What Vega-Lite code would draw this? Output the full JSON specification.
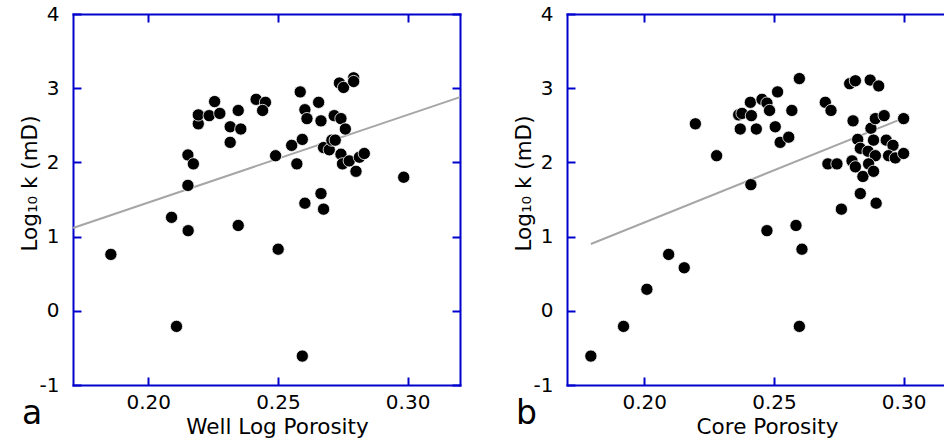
{
  "$schema": "https://vega.github.io/schema/vega-lite/v6.json",
  "padding": {"left": 19, "top": 4, "right": 0, "bottom": 0},
  "background": "white",
  "spacing": 49,
  "config": {
    "font": "DejaVu Sans",
    "view": {"stroke": null},
    "axis": {
      "grid": false,
      "domainColor": "#0000cc",
      "domainWidth": 2,
      "domainCap": "square",
      "tickColor": "#0000cc",
      "tickWidth": 2,
      "tickSize": -8,
      "labelFont": "DejaVu Sans",
      "labelFontSize": 20,
      "labelColor": "#000000",
      "titleFont": "DejaVu Sans",
      "titleFontSize": 21.5,
      "titleFontWeight": "normal",
      "titleColor": "#000000"
    },
    "title": {"font": "DejaVu Sans", "fontWeight": "normal", "color": "#000000"}
  },
  "datasets": {
    "wellLog": [
      {"porosity": 0.1856, "logk": 0.76}, {"porosity": 0.2109, "logk": -0.21}, {"porosity": 0.2090, "logk": 1.26},
      {"porosity": 0.2154, "logk": 1.08}, {"porosity": 0.2153, "logk": 1.69}, {"porosity": 0.2153, "logk": 2.10},
      {"porosity": 0.2174, "logk": 1.98}, {"porosity": 0.2193, "logk": 2.52}, {"porosity": 0.2193, "logk": 2.64},
      {"porosity": 0.2235, "logk": 2.63}, {"porosity": 0.2256, "logk": 2.82}, {"porosity": 0.2276, "logk": 2.66},
      {"porosity": 0.2316, "logk": 2.48}, {"porosity": 0.2316, "logk": 2.27}, {"porosity": 0.2347, "logk": 2.70},
      {"porosity": 0.2357, "logk": 2.45}, {"porosity": 0.2347, "logk": 1.15}, {"porosity": 0.2416, "logk": 2.85},
      {"porosity": 0.2452, "logk": 2.81}, {"porosity": 0.2441, "logk": 2.70}, {"porosity": 0.2491, "logk": 2.09},
      {"porosity": 0.2501, "logk": 0.83}, {"porosity": 0.2553, "logk": 2.23}, {"porosity": 0.2573, "logk": 1.98},
      {"porosity": 0.2586, "logk": 2.95}, {"porosity": 0.2594, "logk": 2.31}, {"porosity": 0.2604, "logk": 2.71},
      {"porosity": 0.2612, "logk": 2.59}, {"porosity": 0.2604, "logk": 1.45}, {"porosity": 0.2594, "logk": -0.61},
      {"porosity": 0.2657, "logk": 2.81}, {"porosity": 0.2666, "logk": 2.56}, {"porosity": 0.2666, "logk": 1.58},
      {"porosity": 0.2676, "logk": 1.37}, {"porosity": 0.2676, "logk": 2.20}, {"porosity": 0.2698, "logk": 2.17},
      {"porosity": 0.2708, "logk": 2.30}, {"porosity": 0.2721, "logk": 2.30}, {"porosity": 0.2717, "logk": 2.63},
      {"porosity": 0.2743, "logk": 2.59}, {"porosity": 0.2760, "logk": 2.45}, {"porosity": 0.2737, "logk": 3.07},
      {"porosity": 0.2753, "logk": 3.01}, {"porosity": 0.2792, "logk": 3.14}, {"porosity": 0.2792, "logk": 3.09},
      {"porosity": 0.2743, "logk": 2.11}, {"porosity": 0.2749, "logk": 1.98}, {"porosity": 0.2775, "logk": 2.02},
      {"porosity": 0.2801, "logk": 1.88}, {"porosity": 0.2814, "logk": 2.07}, {"porosity": 0.2833, "logk": 2.12},
      {"porosity": 0.2985, "logk": 1.80}
    ],
    "wellFit": [{"porosity": 0.171, "logk": 1.115}, {"porosity": 0.3202, "logk": 2.88}],
    "core": [
      {"porosity": 0.1794, "logk": -0.61}, {"porosity": 0.1920, "logk": -0.21}, {"porosity": 0.2010, "logk": 0.29},
      {"porosity": 0.2094, "logk": 0.76}, {"porosity": 0.2154, "logk": 0.58}, {"porosity": 0.2197, "logk": 2.52},
      {"porosity": 0.2279, "logk": 2.09}, {"porosity": 0.2364, "logk": 2.64}, {"porosity": 0.2377, "logk": 2.66},
      {"porosity": 0.2370, "logk": 2.45}, {"porosity": 0.2409, "logk": 2.81}, {"porosity": 0.2413, "logk": 2.63},
      {"porosity": 0.2432, "logk": 2.45}, {"porosity": 0.2411, "logk": 1.70}, {"porosity": 0.2454, "logk": 2.85},
      {"porosity": 0.2473, "logk": 2.80}, {"porosity": 0.2483, "logk": 2.70}, {"porosity": 0.2505, "logk": 2.48},
      {"porosity": 0.2514, "logk": 2.95}, {"porosity": 0.2524, "logk": 2.27}, {"porosity": 0.2557, "logk": 2.34},
      {"porosity": 0.2569, "logk": 2.70}, {"porosity": 0.2473, "logk": 1.08}, {"porosity": 0.2598, "logk": 3.13},
      {"porosity": 0.2585, "logk": 1.15}, {"porosity": 0.2608, "logk": 0.83}, {"porosity": 0.2598, "logk": -0.21},
      {"porosity": 0.2698, "logk": 2.81}, {"porosity": 0.2720, "logk": 2.70}, {"porosity": 0.2708, "logk": 1.98},
      {"porosity": 0.2743, "logk": 1.98}, {"porosity": 0.2760, "logk": 1.37}, {"porosity": 0.2792, "logk": 3.06},
      {"porosity": 0.2814, "logk": 3.10}, {"porosity": 0.2805, "logk": 2.56}, {"porosity": 0.2823, "logk": 2.31},
      {"porosity": 0.2833, "logk": 2.19}, {"porosity": 0.2801, "logk": 2.02}, {"porosity": 0.2814, "logk": 1.94},
      {"porosity": 0.2843, "logk": 1.81}, {"porosity": 0.2833, "logk": 1.58}, {"porosity": 0.2871, "logk": 3.11},
      {"porosity": 0.2904, "logk": 3.03}, {"porosity": 0.2874, "logk": 2.46}, {"porosity": 0.2891, "logk": 2.59},
      {"porosity": 0.2925, "logk": 2.63}, {"porosity": 0.2884, "logk": 2.30}, {"porosity": 0.2863, "logk": 2.15},
      {"porosity": 0.2891, "logk": 2.09}, {"porosity": 0.2865, "logk": 1.98}, {"porosity": 0.2884, "logk": 1.88},
      {"porosity": 0.2894, "logk": 1.45}, {"porosity": 0.2933, "logk": 2.30}, {"porosity": 0.2959, "logk": 2.23},
      {"porosity": 0.2942, "logk": 2.09}, {"porosity": 0.2968, "logk": 2.06}, {"porosity": 0.3000, "logk": 2.59},
      {"porosity": 0.3000, "logk": 2.12}
    ],
    "coreFit": [{"porosity": 0.1794, "logk": 0.90}, {"porosity": 0.2995, "logk": 2.59}]
  },
  "hconcat": [
    {
      "width": 387,
      "height": 371,
      "title": {"text": "a", "orient": "bottom", "anchor": "start", "frame": "group", "fontSize": 33, "baseline": "alphabetic", "dx": -51, "offset": -14},
      "layer": [
        {
          "data": {"name": "wellFit"},
          "mark": {"type": "line", "color": "#a6a6a6", "strokeWidth": 2},
          "encoding": {
            "x": {"field": "porosity", "type": "quantitative", "scale": {"domain": [0.171, 0.3202], "nice": false, "zero": false},
                  "axis": {"orient": "top", "values": [0.2, 0.25, 0.3], "labels": false, "title": null}},
            "y": {"field": "logk", "type": "quantitative", "scale": {"domain": [-1, 4], "nice": false, "zero": false},
                  "axis": {"orient": "right", "values": [-1, 0, 1, 2, 3, 4], "labels": false, "title": null}}
          }
        },
        {
          "data": {"name": "wellLog"},
          "mark": {"type": "circle", "size": 150, "color": "#000000", "opacity": 1, "stroke": "#ffffff", "strokeWidth": 0.8},
          "encoding": {
            "x": {"field": "porosity", "type": "quantitative", "scale": {"domain": [0.171, 0.3202], "nice": false, "zero": false},
                  "axis": {"orient": "bottom", "values": [0.2, 0.25, 0.3], "format": ".2f", "labelPadding": 15, "labelFlush": false, "title": "Well Log Porosity", "titlePadding": 4, "titleX": 204}},
            "y": {"field": "logk", "type": "quantitative", "scale": {"domain": [-1, 4], "nice": false, "zero": false},
                  "axis": {"orient": "left", "values": [-1, 0, 1, 2, 3, 4], "format": "d", "labelExpr": "replace(datum.label, '−', '-')", "labelPadding": 22, "labelFlush": false, "title": "Log₁₀ k (mD)", "titlePadding": -2, "titleY": 169}}
          }
        },
        {
          "mark": {"type": "text", "align": "left", "baseline": "alphabetic", "fontSize": 20, "color": "#000000"},
          "encoding": {
            "x": {"datum": 0.1868, "type": "quantitative", "axis": null},
            "y": {"datum": 3.434, "type": "quantitative", "axis": null},
            "text": {"value": "R = 0.48"}
          }
        }
      ],
      "resolve": {"axis": {"x": "independent", "y": "independent"}}
    },
    {
      "width": 382,
      "height": 371,
      "title": {"text": "b", "orient": "bottom", "anchor": "start", "frame": "group", "fontSize": 33, "baseline": "alphabetic", "dx": -51, "offset": -14},
      "layer": [
        {
          "data": {"name": "coreFit"},
          "mark": {"type": "line", "color": "#a6a6a6", "strokeWidth": 2},
          "encoding": {
            "x": {"field": "porosity", "type": "quantitative", "scale": {"domain": [0.1702, 0.3175], "nice": false, "zero": false},
                  "axis": {"orient": "top", "values": [0.2, 0.25, 0.3], "labels": false, "title": null}},
            "y": {"field": "logk", "type": "quantitative", "scale": {"domain": [-1, 4], "nice": false, "zero": false}, "axis": null}
          }
        },
        {
          "data": {"name": "core"},
          "mark": {"type": "circle", "size": 150, "color": "#000000", "opacity": 1, "stroke": "#ffffff", "strokeWidth": 0.8},
          "encoding": {
            "x": {"field": "porosity", "type": "quantitative", "scale": {"domain": [0.1702, 0.3175], "nice": false, "zero": false},
                  "axis": {"orient": "bottom", "values": [0.2, 0.25, 0.3], "format": ".2f", "labelPadding": 15, "labelFlush": false, "title": "Core Porosity", "titlePadding": 4, "titleX": 200}},
            "y": {"field": "logk", "type": "quantitative", "scale": {"domain": [-1, 4], "nice": false, "zero": false},
                  "axis": {"orient": "left", "values": [-1, 0, 1, 2, 3, 4], "format": "d", "labelExpr": "replace(datum.label, '−', '-')", "labelPadding": 22, "labelFlush": false, "title": "Log₁₀ k (mD)", "titlePadding": -2, "titleY": 169}}
          }
        },
        {
          "mark": {"type": "text", "align": "left", "baseline": "alphabetic", "fontSize": 20, "color": "#000000"},
          "encoding": {
            "x": {"datum": 0.1862, "type": "quantitative", "axis": null},
            "y": {"datum": 3.434, "type": "quantitative", "axis": null},
            "text": {"value": "R = 0.47"}
          }
        }
      ],
      "resolve": {"axis": {"x": "independent", "y": "independent"}}
    }
  ]
}
